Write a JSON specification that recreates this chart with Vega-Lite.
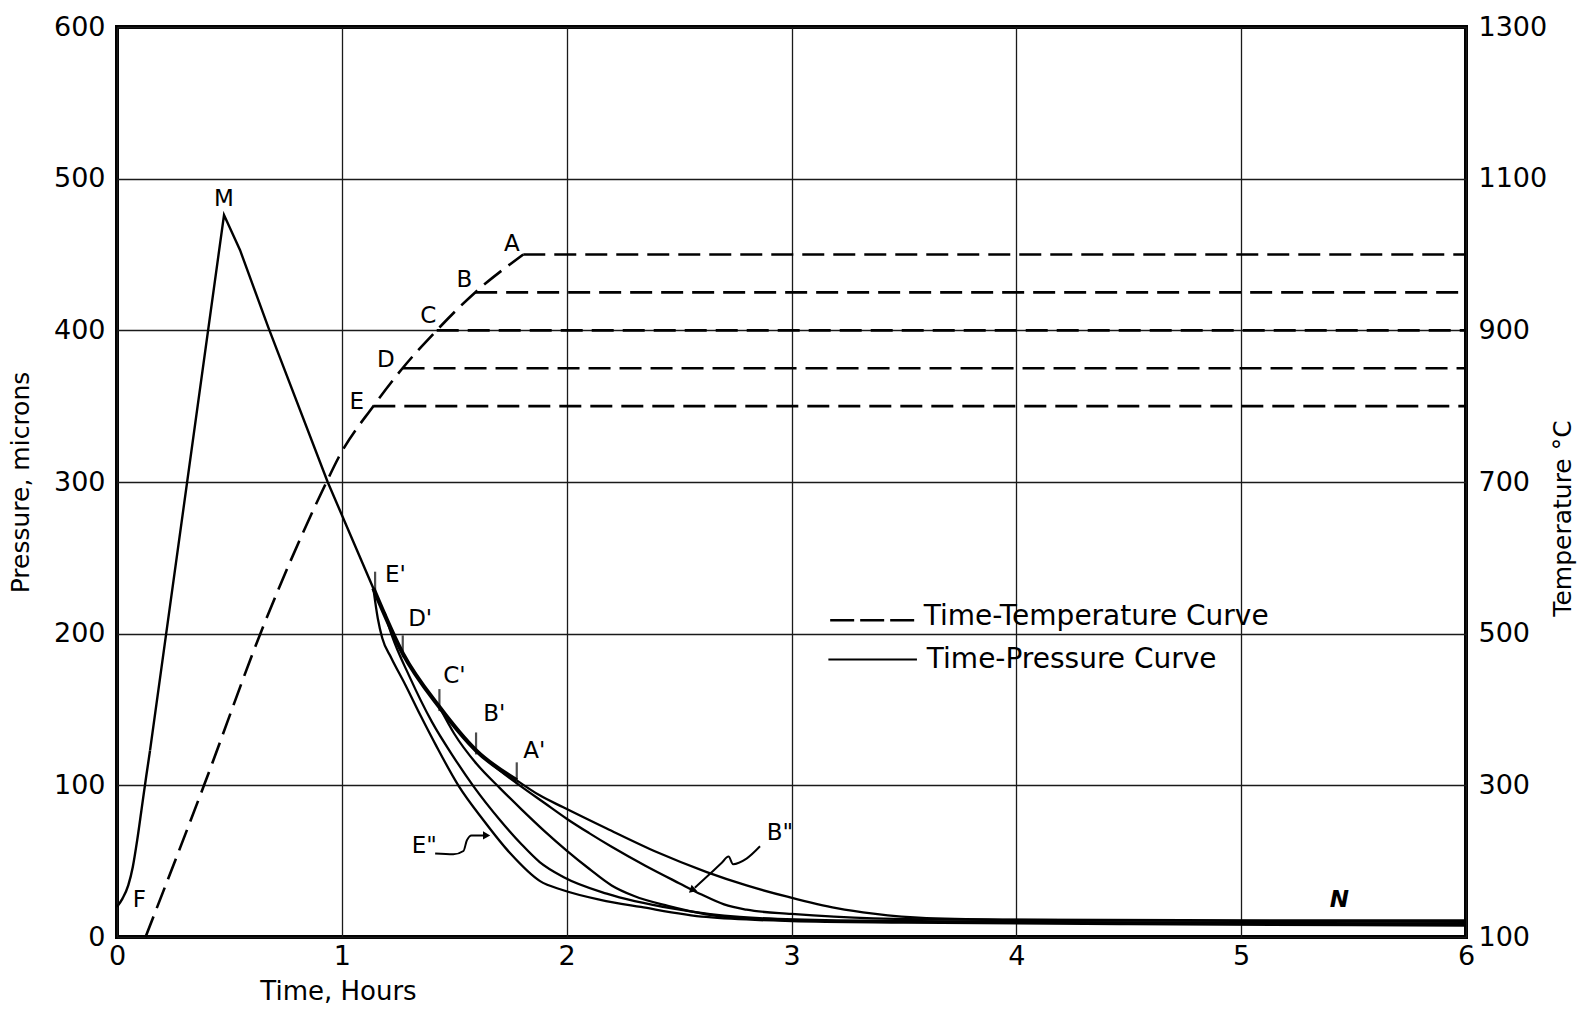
{
  "$schema": "https://vega.github.io/schema/vega-lite/v6.json",
  "width": 1349,
  "height": 910,
  "autosize": {"type": "none"},
  "padding": {"left": 117, "top": 27, "right": 117, "bottom": 75},
  "background": "white",
  "config": {
    "font": "DejaVu Sans",
    "view": {"stroke": "black", "strokeWidth": 4}
  },
  "datasets": {
    "pressure": [
      {"curve": "foot", "t": 0, "p": 20},
      {"curve": "foot", "t": 0.025, "p": 25.5},
      {"curve": "foot", "t": 0.05, "p": 34},
      {"curve": "foot", "t": 0.07, "p": 46},
      {"curve": "foot", "t": 0.09, "p": 64},
      {"curve": "foot", "t": 0.11, "p": 85},
      {"curve": "foot", "t": 0.13, "p": 106},
      {"curve": "foot", "t": 0.147, "p": 123},
      {"curve": "rise", "t": 0.147, "p": 123},
      {"curve": "rise", "t": 0.476, "p": 476},
      {"curve": "rise", "t": 0.547, "p": 453},
      {"curve": "rise", "t": 0.673, "p": 402},
      {"curve": "rise", "t": 0.937, "p": 300},
      {"curve": "rise", "t": 1.14, "p": 230},
      {"curve": "trunk", "t": 1.14, "p": 230},
      {"curve": "trunk", "t": 1.271, "p": 187},
      {"curve": "trunk", "t": 1.434, "p": 151.6},
      {"curve": "trunk", "t": 1.597, "p": 123},
      {"curve": "trunk", "t": 1.778, "p": 103.3},
      {"curve": "E2", "t": 1.14, "p": 230},
      {"curve": "E2", "t": 1.16, "p": 210},
      {"curve": "E2", "t": 1.18, "p": 197},
      {"curve": "E2", "t": 1.22, "p": 184},
      {"curve": "E2", "t": 1.28, "p": 167},
      {"curve": "E2", "t": 1.35, "p": 146},
      {"curve": "E2", "t": 1.42, "p": 126},
      {"curve": "E2", "t": 1.518, "p": 100},
      {"curve": "E2", "t": 1.63, "p": 77},
      {"curve": "E2", "t": 1.75, "p": 55},
      {"curve": "E2", "t": 1.88, "p": 37},
      {"curve": "E2", "t": 1.985, "p": 30.8},
      {"curve": "E2", "t": 2.15, "p": 24.5},
      {"curve": "E2", "t": 2.33, "p": 19.8},
      {"curve": "E2", "t": 2.62, "p": 13.2},
      {"curve": "E2", "t": 3.0, "p": 10.5},
      {"curve": "E2", "t": 3.5, "p": 9.5},
      {"curve": "E2", "t": 4.5, "p": 8.5},
      {"curve": "E2", "t": 6, "p": 7.5},
      {"curve": "D2", "t": 1.19, "p": 214},
      {"curve": "D2", "t": 1.222, "p": 199},
      {"curve": "D2", "t": 1.3, "p": 172},
      {"curve": "D2", "t": 1.4, "p": 142},
      {"curve": "D2", "t": 1.5, "p": 118},
      {"curve": "D2", "t": 1.585, "p": 99.5},
      {"curve": "D2", "t": 1.704, "p": 77},
      {"curve": "D2", "t": 1.8, "p": 61},
      {"curve": "D2", "t": 1.88, "p": 49.4},
      {"curve": "D2", "t": 1.985, "p": 39.6},
      {"curve": "D2", "t": 2.178, "p": 28.6},
      {"curve": "D2", "t": 2.475, "p": 18.7},
      {"curve": "D2", "t": 2.77, "p": 13.2},
      {"curve": "D2", "t": 3.2, "p": 11},
      {"curve": "D2", "t": 4, "p": 10},
      {"curve": "D2", "t": 5, "p": 9},
      {"curve": "D2", "t": 6, "p": 8},
      {"curve": "C2", "t": 1.434, "p": 151.6},
      {"curve": "C2", "t": 1.5, "p": 134},
      {"curve": "C2", "t": 1.6, "p": 114},
      {"curve": "C2", "t": 1.704, "p": 98},
      {"curve": "C2", "t": 1.8, "p": 84},
      {"curve": "C2", "t": 1.9, "p": 70},
      {"curve": "C2", "t": 2.0, "p": 57},
      {"curve": "C2", "t": 2.1, "p": 45},
      {"curve": "C2", "t": 2.2, "p": 34},
      {"curve": "C2", "t": 2.3, "p": 27},
      {"curve": "C2", "t": 2.45, "p": 20.5},
      {"curve": "C2", "t": 2.62, "p": 15},
      {"curve": "C2", "t": 2.9, "p": 11.5},
      {"curve": "C2", "t": 3.5, "p": 10},
      {"curve": "C2", "t": 4.5, "p": 9.5},
      {"curve": "C2", "t": 6, "p": 9},
      {"curve": "B2", "t": 1.597, "p": 123},
      {"curve": "B2", "t": 1.7, "p": 110},
      {"curve": "B2", "t": 1.8, "p": 99},
      {"curve": "B2", "t": 1.9, "p": 88.5},
      {"curve": "B2", "t": 2.0, "p": 78},
      {"curve": "B2", "t": 2.1, "p": 68.5},
      {"curve": "B2", "t": 2.2, "p": 59.5},
      {"curve": "B2", "t": 2.35, "p": 47},
      {"curve": "B2", "t": 2.5, "p": 35.5},
      {"curve": "B2", "t": 2.6, "p": 28},
      {"curve": "B2", "t": 2.7, "p": 21.5},
      {"curve": "B2", "t": 2.8, "p": 18},
      {"curve": "B2", "t": 3.0, "p": 15.2},
      {"curve": "B2", "t": 3.364, "p": 12.3},
      {"curve": "B2", "t": 4, "p": 11.2},
      {"curve": "B2", "t": 5, "p": 10.6},
      {"curve": "B2", "t": 6, "p": 10},
      {"curve": "A2", "t": 1.778, "p": 103.3},
      {"curve": "A2", "t": 1.88, "p": 93.4},
      {"curve": "A2", "t": 1.985, "p": 85.5},
      {"curve": "A2", "t": 2.178, "p": 71.5},
      {"curve": "A2", "t": 2.4, "p": 56},
      {"curve": "A2", "t": 2.623, "p": 42.8},
      {"curve": "A2", "t": 2.8, "p": 34},
      {"curve": "A2", "t": 2.986, "p": 26.4},
      {"curve": "A2", "t": 3.2, "p": 19},
      {"curve": "A2", "t": 3.364, "p": 15.4},
      {"curve": "A2", "t": 3.6, "p": 12.5},
      {"curve": "A2", "t": 4, "p": 11.5},
      {"curve": "A2", "t": 5, "p": 11},
      {"curve": "A2", "t": 6, "p": 11}
    ],
    "temperature": [
      {"curve": "rise", "t": 0.127, "temp": 100},
      {"curve": "rise", "t": 0.387, "temp": 300},
      {"curve": "rise", "t": 0.651, "temp": 510},
      {"curve": "rise", "t": 0.932, "temp": 700},
      {"curve": "rise", "t": 0.985, "temp": 732},
      {"curve": "rise", "t": 1.14, "temp": 800},
      {"curve": "rise", "t": 1.27, "temp": 850},
      {"curve": "rise", "t": 1.422, "temp": 900},
      {"curve": "rise", "t": 1.593, "temp": 950},
      {"curve": "rise", "t": 1.807, "temp": 1000},
      {"curve": "A", "t": 1.807, "temp": 1000},
      {"curve": "A", "t": 6, "temp": 1000},
      {"curve": "B", "t": 1.593, "temp": 950},
      {"curve": "B", "t": 6, "temp": 950},
      {"curve": "C", "t": 1.422, "temp": 900},
      {"curve": "C", "t": 6, "temp": 900},
      {"curve": "D", "t": 1.27, "temp": 850},
      {"curve": "D", "t": 6, "temp": 850},
      {"curve": "E", "t": 1.14, "temp": 800},
      {"curve": "E", "t": 6, "temp": 800}
    ],
    "tempLabels": [
      {"label": "A", "t": 1.756, "temp": 1014},
      {"label": "B", "t": 1.545, "temp": 966},
      {"label": "C", "t": 1.385, "temp": 919},
      {"label": "D", "t": 1.196, "temp": 861},
      {"label": "E", "t": 1.066, "temp": 805}
    ],
    "primeTicks": [
      {"label": "E'", "t": 1.148, "p": 229},
      {"label": "D'", "t": 1.271, "p": 187},
      {"label": "C'", "t": 1.434, "p": 151.6},
      {"label": "B'", "t": 1.597, "p": 123},
      {"label": "A'", "t": 1.778, "p": 103.3}
    ],
    "centerLabels": [
      {"label": "M", "t": 0.476, "p": 486.7},
      {"label": "F", "t": 0.099, "p": 24.2}
    ],
    "leftLabels": [
      {"label": "E'", "t": 1.192, "p": 239},
      {"label": "D'", "t": 1.295, "p": 209.9},
      {"label": "C'", "t": 1.451, "p": 172},
      {"label": "B'", "t": 1.629, "p": 147.3},
      {"label": "A'", "t": 1.807, "p": 122.5},
      {"label": "E\"", "t": 1.311, "p": 59.8},
      {"label": "B\"", "t": 2.89, "p": 68.7}
    ],
    "nLabel": [
      {"label": "N", "t": 5.437, "p": 24.2}
    ],
    "arrows": [
      {"arrow": "E2", "t": 1.415, "p": 55},
      {"arrow": "E2", "t": 1.496, "p": 54.5},
      {"arrow": "E2", "t": 1.541, "p": 56.7},
      {"arrow": "E2", "t": 1.556, "p": 63.7},
      {"arrow": "E2", "t": 1.577, "p": 67},
      {"arrow": "E2", "t": 1.63, "p": 67},
      {"arrow": "B2", "t": 2.57, "p": 32.5},
      {"arrow": "B2", "t": 2.64, "p": 42},
      {"arrow": "B2", "t": 2.69, "p": 49},
      {"arrow": "B2", "t": 2.72, "p": 53},
      {"arrow": "B2", "t": 2.74, "p": 48},
      {"arrow": "B2", "t": 2.8, "p": 51.7},
      {"arrow": "B2", "t": 2.86, "p": 59.8}
    ],
    "tips": [
      {"arrow": "E2", "t": 1.644, "p": 67},
      {"arrow": "B2", "t": 2.556, "p": 30.8}
    ],
    "legendLines": [
      {"kind": "Time-Temperature Curve", "t": 3.172, "p": 208.8},
      {"kind": "Time-Temperature Curve", "t": 3.558, "p": 208.8},
      {"kind": "Time-Pressure Curve", "t": 3.164, "p": 182.9},
      {"kind": "Time-Pressure Curve", "t": 3.558, "p": 182.9}
    ],
    "legendText": [
      {"label": "Time-Temperature Curve", "t": 3.588, "p": 211},
      {"label": "Time-Pressure Curve", "t": 3.602, "p": 182.5}
    ]
  },
  "encoding": {
    "x": {
      "field": "t",
      "type": "quantitative",
      "scale": {"domain": [0, 6], "nice": false, "zero": false},
      "axis": {
        "values": [0, 1, 2, 3, 4, 5, 6],
        "format": "d",
        "grid": true,
        "gridColor": "#1a1a1a",
        "gridWidth": 1.3,
        "domain": false,
        "ticks": false,
        "labelFontSize": 27,
        "labelPadding": 6,
        "labelFlush": false,
        "labelColor": "black",
        "title": "Time, Hours",
        "titleFontSize": 26,
        "titleFontWeight": "normal",
        "titleColor": "black",
        "titleX": 221,
        "titleAlign": "center",
        "titlePadding": 9
      }
    }
  },
  "layer": [
    {
      "encoding": {
        "y": {
          "field": "p",
          "type": "quantitative",
          "scale": {"domain": [0, 600], "nice": false},
          "axis": {
            "orient": "left",
            "values": [0, 100, 200, 300, 400, 500, 600],
            "format": "d",
            "grid": true,
            "gridColor": "#1a1a1a",
            "gridWidth": 1.3,
            "domain": false,
            "ticks": false,
            "labelFontSize": 27,
            "labelPadding": 12,
            "labelColor": "black",
            "minExtent": 64,
            "maxExtent": 64,
            "title": "Pressure, microns",
            "titleFontSize": 25,
            "titleFontWeight": "normal",
            "titleColor": "black",
            "titlePadding": 20
          }
        }
      },
      "layer": [
        {
          "data": {"name": "pressure"},
          "transform": [{"filter": "datum.curve === 'foot'"}],
          "mark": {"type": "line", "color": "black", "strokeWidth": 2.4, "interpolate": "monotone"},
          "encoding": {"detail": {"field": "curve"}}
        },
        {
          "data": {"name": "pressure"},
          "transform": [{"filter": "datum.curve === 'rise'"}],
          "mark": {"type": "line", "color": "black", "strokeWidth": 2.4},
          "encoding": {"detail": {"field": "curve"}}
        },
        {
          "data": {"name": "pressure"},
          "transform": [{"filter": "datum.curve === 'trunk'"}],
          "mark": {"type": "line", "color": "black", "strokeWidth": 4.2, "interpolate": "monotone"},
          "encoding": {"detail": {"field": "curve"}}
        },
        {
          "data": {"name": "pressure"},
          "transform": [{"filter": "datum.curve !== 'rise' && datum.curve !== 'trunk' && datum.curve !== 'foot'"}],
          "mark": {"type": "line", "color": "black", "strokeWidth": 2.3, "interpolate": "monotone"},
          "encoding": {"detail": {"field": "curve"}}
        },
        {
          "data": {"name": "primeTicks"},
          "mark": {"type": "tick", "orient": "vertical", "color": "black", "size": 22, "thickness": 2.2, "yOffset": -7}
        },
        {
          "data": {"name": "centerLabels"},
          "mark": {"type": "text", "fontSize": 23, "color": "black", "align": "center", "baseline": "middle"},
          "encoding": {"text": {"field": "label"}}
        },
        {
          "data": {"name": "leftLabels"},
          "mark": {"type": "text", "fontSize": 23, "color": "black", "align": "left", "baseline": "middle"},
          "encoding": {"text": {"field": "label"}}
        },
        {
          "data": {"name": "nLabel"},
          "mark": {"type": "text", "fontSize": 23, "fontStyle": "italic", "fontWeight": "bold", "color": "black", "align": "center", "baseline": "middle"},
          "encoding": {"text": {"field": "label"}}
        },
        {
          "data": {"name": "arrows"},
          "mark": {"type": "line", "color": "black", "strokeWidth": 2, "interpolate": "monotone"},
          "encoding": {"detail": {"field": "arrow"}}
        },
        {
          "data": {"name": "tips"},
          "transform": [{"filter": "datum.arrow === 'E2'"}],
          "mark": {"type": "point", "shape": "triangle-right", "filled": true, "color": "black", "size": 70, "opacity": 1}
        },
        {
          "data": {"name": "tips"},
          "transform": [{"filter": "datum.arrow === 'B2'"}],
          "mark": {"type": "point", "shape": "triangle-up", "angle": 228, "filled": true, "color": "black", "size": 70, "opacity": 1}
        },
        {
          "data": {"name": "legendLines"},
          "transform": [{"filter": "datum.kind === 'Time-Temperature Curve'"}],
          "mark": {"type": "line", "color": "black", "strokeWidth": 2.4, "strokeDash": [24, 6]},
          "encoding": {"detail": {"field": "kind"}}
        },
        {
          "data": {"name": "legendLines"},
          "transform": [{"filter": "datum.kind === 'Time-Pressure Curve'"}],
          "mark": {"type": "line", "color": "black", "strokeWidth": 2},
          "encoding": {"detail": {"field": "kind"}}
        },
        {
          "data": {"name": "legendText"},
          "mark": {"type": "text", "fontSize": 28, "color": "black", "align": "left", "baseline": "middle"},
          "encoding": {"text": {"field": "label"}}
        }
      ]
    },
    {
      "encoding": {
        "y": {
          "field": "temp",
          "type": "quantitative",
          "scale": {"domain": [100, 1300], "nice": false, "zero": false},
          "axis": {
            "orient": "right",
            "values": [100, 300, 500, 700, 900, 1100, 1300],
            "format": "d",
            "grid": false,
            "domain": false,
            "ticks": false,
            "labelFontSize": 27,
            "labelPadding": 12,
            "labelColor": "black",
            "minExtent": 80,
            "maxExtent": 80,
            "title": "Temperature °C",
            "titleFontSize": 25,
            "titleFontWeight": "normal",
            "titleColor": "black",
            "titleAngle": 270,
            "titleBaseline": "top",
            "titlePadding": 4,
            "titleY": 491
          }
        }
      },
      "layer": [
        {
          "data": {"name": "temperature"},
          "transform": [{"filter": "datum.curve === 'rise'"}],
          "mark": {"type": "line", "color": "black", "strokeWidth": 2.6, "strokeDash": [22, 9], "interpolate": "monotone"},
          "encoding": {"detail": {"field": "curve"}}
        },
        {
          "data": {"name": "temperature"},
          "transform": [{"filter": "datum.curve !== 'rise'"}],
          "mark": {"type": "line", "color": "black", "strokeWidth": 2.6, "strokeDash": [22, 9]},
          "encoding": {"detail": {"field": "curve"}}
        },
        {
          "data": {"name": "tempLabels"},
          "mark": {"type": "text", "fontSize": 23, "color": "black", "align": "center", "baseline": "middle"},
          "encoding": {"text": {"field": "label"}}
        }
      ]
    }
  ],
  "resolve": {"scale": {"y": "independent"}, "axis": {"y": "independent"}}
}
